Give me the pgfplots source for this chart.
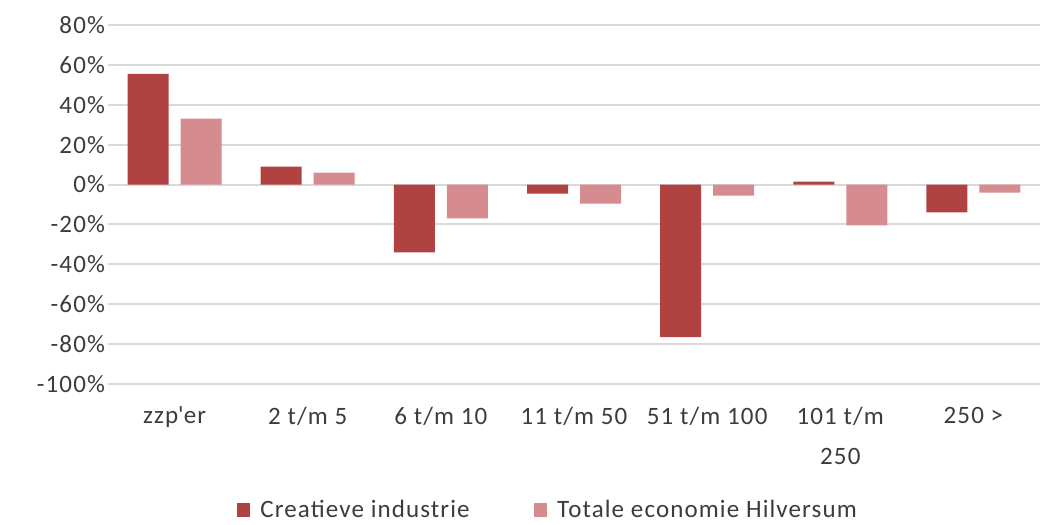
\documentclass[border=0pt]{standalone}
\usepackage{fontspec}
\setmainfont{Carlito}[LetterSpace=4.5]
\usepackage{pgfplots}
\pgfplotsset{compat=1.18}
\definecolor{darkred}{RGB}{176,66,66}
\definecolor{lightred}{RGB}{214,140,142}
\definecolor{txt}{RGB}{60,60,60}
\definecolor{gridc}{RGB}{217,217,217}
\begin{document}
\begin{tikzpicture}
\path[use as bounding box] (0,0) rectangle (525pt,262.5pt);
\begin{axis}[
  at={(54pt,70.5pt)}, anchor=south west,
  scale only axis, width=466pt, height=179.5pt,
  ybar=6pt, bar width=20.5pt,
  xmin=-0.5, xmax=6.5, ymin=-100, ymax=80,
  ytick={-100,-80,...,80},
  yticklabel={\pgfmathprintnumber{\tick}\%},
  /pgf/number format/assume math mode=true,
  xtick={0,...,6},
  xticklabels={zzp\textquotesingle er,2 t/m 5,6 t/m 10,11 t/m 50,51 t/m 100,{101 t/m\\250},250 >},
  xticklabel style={align=center, yshift=-8pt, text=txt, font=\fontsize{12.5}{20}\selectfont},
  yticklabel style={text=txt, font=\fontsize{12.5}{15}\selectfont, xshift=2pt},
  axis line style={draw=none},
  major tick length=0pt,
  ymajorgrids, grid style={gridc, line width=1pt},
  legend style={draw=none, at={(0.473,-0.351)}, anchor=center, legend columns=2,
    font=\fontsize{12.5}{15}\selectfont, text=txt,
    /tikz/every odd column/.append style={column sep=3pt},
    /tikz/every even column/.append style={column sep=30pt}},
  legend image code/.code={\fill[#1] (0pt,-3.4pt) rectangle (6.8pt,3.4pt);},
]
\addplot[fill=darkred, draw=none] coordinates {(0,55.5) (1,9) (2,-34) (3,-4.5) (4,-76.5) (5,1.5) (6,-14)};
\addplot[fill=lightred, draw=none] coordinates {(0,33) (1,6) (2,-17) (3,-9.5) (4,-5.5) (5,-20.5) (6,-4)};
\legend{Creatieve industrie, Totale economie Hilversum}
\end{axis}
\end{tikzpicture}
\end{document}
